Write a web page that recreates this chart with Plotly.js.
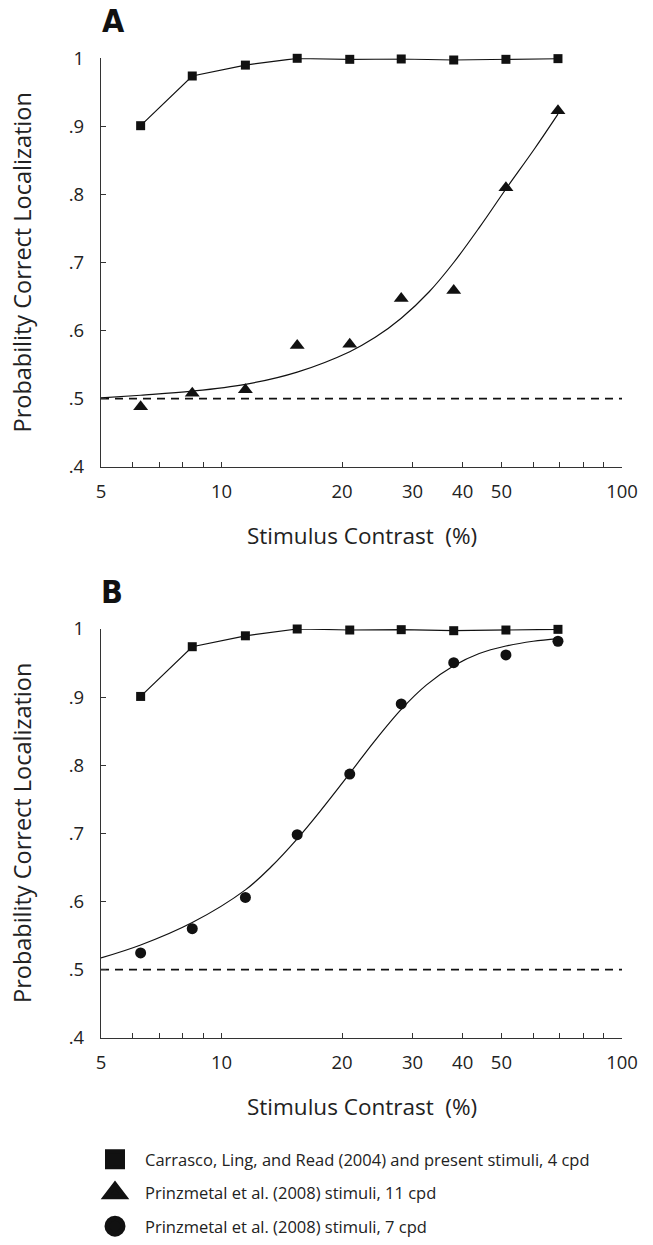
<!DOCTYPE html>
<html>
<head>
<meta charset="utf-8">
<script src="https://cdn.plot.ly/plotly-3.0.1.min.js"></script>
<style>
  html, body { margin: 0; padding: 0; background: #fff; }
  #chart { width: 653px; height: 1245px; }
  .legend .traces { opacity: 1 !important; }
</style>
</head>
<body>
<div id="chart"></div>
<script>
// ---- data ----
const contrast = [6.28, 8.45, 11.47, 15.45, 20.9, 28.1, 38.0, 51.3, 69.2];
const carrasco4cpd = [0.901, 0.974, 0.990, 1.0, 0.9985, 0.999, 0.9975, 0.9985, 0.9995];
const prinz11cpd = [0.488, 0.508, 0.513, 0.578, 0.580, 0.647, 0.659, 0.810, 0.923];
const prinz7cpd = [0.5245, 0.560, 0.606, 0.698, 0.787, 0.890, 0.9505, 0.962, 0.982];

// fitted curves, points
const fitA_x = [5, 6.28, 8.45, 11.47, 15.45, 20.9, 24.2, 28.1, 33.0, 38.0, 44.1, 51.3, 60.3, 69.2];
const fitA_y = [0.501, 0.505, 0.511, 0.521, 0.539, 0.569, 0.590, 0.618, 0.657, 0.700, 0.752, 0.808, 0.866, 0.918];

const fitB_x = [5, 6.28, 8.45, 11.47, 13.3, 15.45, 17.6, 20.9, 24.0, 28.1, 32.5, 38.0, 44.0, 51.3, 60.0, 69.2];
const fitB_y = [0.517, 0.536, 0.569, 0.617, 0.651, 0.692, 0.732, 0.788, 0.834, 0.882, 0.918, 0.946, 0.964, 0.975, 0.982, 0.986];

const chanceX = [5, 100];
const chanceY = [0.5, 0.5];

const xTickVals = [5, 6, 7, 8, 9, 10, 20, 30, 40, 50, 60, 70, 80, 90, 100];
const xTickText = ['5', '', '', '', '', '10', '20', '30', '40', '50', '', '', '', '', '100'];
const yTickVals = [0.4, 0.5, 0.6, 0.7, 0.8, 0.9, 1.0];
const yTickText = ['.4', '.5', '.6', '.7', '.8', '.9', '1'];

const legendNames = [
  'Carrasco, Ling, and Read (2004) and present stimuli, 4 cpd',
  'Prinzmetal et al. (2008) stimuli, 11 cpd',
  'Prinzmetal et al. (2008) stimuli, 7 cpd'
];

// ---- styling ----
const INK = '#111';
const AX = '#333';
const FONT = '"Open Sans", "Noto Sans", sans-serif';

function chance(xa, ya) {
  return { x: chanceX, y: chanceY, xaxis: xa, yaxis: ya, mode: 'lines', showlegend: false,
    line: { color: INK, width: 1.8, dash: '8px,6px' }, hoverinfo: 'skip', cliponaxis: false };
}
function squaresLine(xa, ya) {
  return { x: contrast, y: carrasco4cpd, xaxis: xa, yaxis: ya, mode: 'lines+markers', showlegend: false,
    line: { color: INK, width: 1.2 }, marker: { symbol: 'square', size: 9, color: INK }, cliponaxis: false };
}
function fit(xs, ys, xa, ya) {
  return { x: xs, y: ys, xaxis: xa, yaxis: ya, mode: 'lines', showlegend: false,
    line: { color: INK, width: 1.2, shape: 'spline', smoothing: 1 }, cliponaxis: false };
}

const traces = [
  chance('x', 'y'),
  fit(fitA_x, fitA_y, 'x', 'y'),
  squaresLine('x', 'y'),
  { x: contrast, y: prinz11cpd, xaxis: 'x', yaxis: 'y', mode: 'markers', showlegend: false,
    marker: { symbol: 'triangle-up', size: 13, color: INK }, cliponaxis: false },

  chance('x2', 'y2'),
  fit(fitB_x, fitB_y, 'x2', 'y2'),
  squaresLine('x2', 'y2'),
  { x: contrast, y: prinz7cpd, xaxis: 'x2', yaxis: 'y2', mode: 'markers', showlegend: false,
    marker: { symbol: 'circle', size: 11, color: INK }, cliponaxis: false },

  // legend entries (same data, shown in the legend only)
  { x: contrast, y: carrasco4cpd, xaxis: 'x', yaxis: 'y', mode: 'markers', name: legendNames[0],
    visible: 'legendonly', legendgroup: 'g1',
    marker: { symbol: 'square', size: 16, color: INK, line: { color: INK, width: 4 } } },
  { x: contrast, y: prinz11cpd, xaxis: 'x', yaxis: 'y', mode: 'markers', name: legendNames[1],
    visible: 'legendonly', legendgroup: 'g2',
    marker: { symbol: 'triangle-up', size: 16, color: INK, line: { color: INK, width: 5 } } },
  { x: contrast, y: prinz7cpd, xaxis: 'x2', yaxis: 'y2', mode: 'markers', name: legendNames[2],
    visible: 'legendonly', legendgroup: 'g3',
    marker: { symbol: 'circle', size: 16, color: INK, line: { color: INK, width: 5 } } }
];

const W = 653, H = 1245;
const px = v => v / W;
const py = v => (H - v) / H;

function xAxis(anchor) {
  return {
    type: 'log', range: [Math.log10(5), 2], domain: [px(101), px(622)], anchor: anchor,
    showline: true, linecolor: AX, linewidth: 1.3, showgrid: false, zeroline: false,
    ticks: 'inside', ticklen: 5, tickwidth: 1.2, tickcolor: AX,
    tickmode: 'array', tickvals: xTickVals, ticktext: xTickText,
    ticklabelstandoff: 8,
    tickfont: { family: FONT, size: 18.5, color: '#222' }, fixedrange: true
  };
}
function yAxis(anchor, top, bottom) {
  return {
    range: [0.4, 1.0], domain: [py(bottom), py(top)], anchor: anchor,
    showline: true, linecolor: AX, linewidth: 1.3, showgrid: false, zeroline: false,
    ticks: 'inside', ticklen: 5, tickwidth: 1.2, tickcolor: AX,
    tickmode: 'array', tickvals: yTickVals, ticktext: yTickText,
    ticklabelstandoff: 12,
    tickfont: { family: FONT, size: 18.5, color: '#222' }, fixedrange: true
  };
}

const yTitleFont = { family: FONT, size: 23.5, color: '#222' };
const xTitleFont = { family: FONT, size: 22.5, color: '#222' };
const letterFont = { family: '"Liberation Sans Narrow", "DejaVu Sans Condensed", "DejaVu Sans", sans-serif', size: 32, color: INK, weight: 'bold' };

const layout = {
  width: W, height: H,
  margin: { l: 0, r: 0, t: 0, b: 0 },
  paper_bgcolor: '#fff', plot_bgcolor: 'rgba(0,0,0,0)',
  font: { family: FONT, color: '#222' },
  xaxis: xAxis('y'),
  yaxis: yAxis('x', 58.3, 466.7),
  xaxis2: xAxis('y2'),
  yaxis2: yAxis('x2', 629, 1037.7),
  showlegend: true,
  legend: {
    x: px(85), xanchor: 'left', y: py(1142), yanchor: 'top',
    bgcolor: 'rgba(0,0,0,0)', borderwidth: 0,
    itemwidth: 50, tracegroupgap: 9, traceorder: 'grouped',
    font: { family: FONT, size: 16.5, color: '#222' },
    itemclick: false, itemdoubleclick: false
  },
  annotations: [
    { text: 'A', xref: 'paper', yref: 'paper', x: px(113.5), y: py(20.5), xanchor: 'center', yanchor: 'middle', showarrow: false, font: letterFont },
    { text: 'B', xref: 'paper', yref: 'paper', x: px(112), y: py(592), xanchor: 'center', yanchor: 'middle', showarrow: false, font: letterFont },
    { text: 'Probability Correct Localization', xref: 'paper', yref: 'paper', x: px(22), y: py(262.5), xanchor: 'center', yanchor: 'middle', textangle: -90, showarrow: false, font: yTitleFont },
    { text: 'Probability Correct Localization', xref: 'paper', yref: 'paper', x: px(22), y: py(833), xanchor: 'center', yanchor: 'middle', textangle: -90, showarrow: false, font: yTitleFont },
    { text: 'Stimulus Contrast\u00a0 (%)', xref: 'paper', yref: 'paper', x: px(361.5), y: py(535), xanchor: 'center', yanchor: 'middle', showarrow: false, font: xTitleFont },
    { text: 'Stimulus Contrast\u00a0 (%)', xref: 'paper', yref: 'paper', x: px(361.5), y: py(1106), xanchor: 'center', yanchor: 'middle', showarrow: false, font: xTitleFont }
  ]
};

Plotly.newPlot('chart', traces, layout, { displayModeBar: false, responsive: false });
</script>
</body>
</html>
